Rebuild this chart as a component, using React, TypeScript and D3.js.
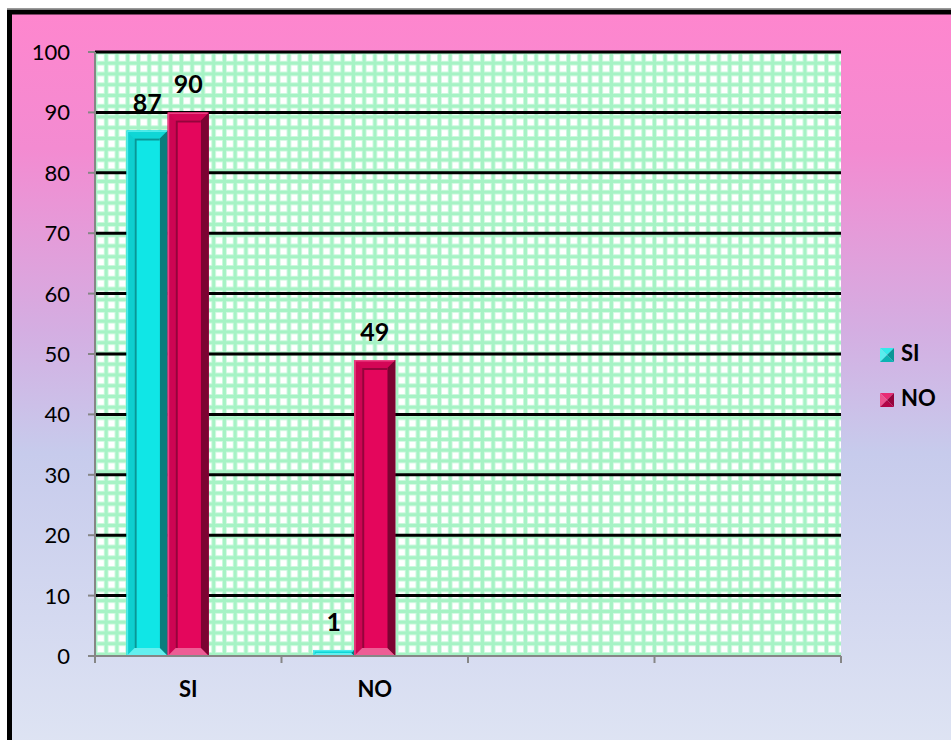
import React from "react";
import * as d3 from "d3";

// Chart data
const categories = ["SI", "NO", "", ""];
const seriesNames = ["SI", "NO"];
const siValues = [87, 1];
const noValues = [90, 49];
const yTickValues = [0, 10, 20, 30, 40, 50, 60, 70, 80, 90, 100];

const seriesColors = ["#10e6e6", "#e4065c"];

const W = 951;
const H = 740;
const plot = { left: 95, right: 841, top: 52, bottom: 656 };
const FONT = "Lato, 'Open Sans', sans-serif";

const mix = (c: string, t: string, k: number) => d3.interpolateRgb(c, t)(k);
const dark = (c: string, k: number) => d3.color(c)!.darker(k).formatHex();

function BevelBar({ x0, y0, w, h, color }: { x0: number; y0: number; w: number; h: number; color: string }) {
  const x1 = x0 + w;
  const y1 = y0 + h;
  const b = Math.min(8, h / 2, w / 2);
  const pts = (p: number[][]) => p.map((q) => q.join(",")).join(" ");
  return (
    <g>
      <rect x={x0} y={y0} width={w} height={h} fill={color} />
      <polygon points={pts([[x0, y0], [x1, y0], [x1 - b, y0 + b], [x0 + b, y0 + b]])} fill={dark(color, 0.2)} />
      <polygon points={pts([[x0, y0], [x0 + b, y0 + b], [x0 + b, y1 - b], [x0, y1]])} fill={dark(color, 0.3)} />
      <polygon points={pts([[x1, y0], [x1, y1], [x1 - b, y1 - b], [x1 - b, y0 + b]])} fill={dark(color, 1.7)} />
      <polygon points={pts([[x0, y1], [x0 + b, y1 - b], [x1 - b, y1 - b], [x1, y1]])} fill={mix(color, "#ffffff", 0.35)} />
      <path
        d={`M${x0 + 0.75},${y1} V${y0 + 0.75} H${x1 - 1}`}
        fill="none"
        stroke={mix(color, "#ffffff", 0.25)}
        strokeWidth={1.5}
      />
      {h > 2 * b + 1 && (
        <g>
          <rect x={x0 + b} y={y0 + b} width={w - 2 * b} height={h - 2 * b} fill={color} />
          <path
            d={`M${x0 + b + 1},${y1 - b} V${y0 + b + 1} H${x1 - b}`}
            fill="none"
            stroke={dark(color, 1.2)}
            strokeWidth={2}
          />
        </g>
      )}
    </g>
  );
}

function LegendMarker({ x, y, s, color }: { x: number; y: number; s: number; color: string }) {
  const cx = x + s / 2;
  const cy = y + s / 2;
  const t = (p: number[][]) => p.map((q) => q.join(",")).join(" ");
  return (
    <g>
      <polygon points={t([[x, y], [x + s, y], [cx, cy]])} fill={mix(color, "#ffffff", 0.15)} />
      <polygon points={t([[x, y], [cx, cy], [x, y + s]])} fill={mix(color, "#ffffff", 0.3)} />
      <polygon points={t([[x + s, y], [x + s, y + s], [cx, cy]])} fill={dark(color, 1.2)} />
      <polygon points={t([[x, y + s], [cx, cy], [x + s, y + s]])} fill={dark(color, 0.7)} />
    </g>
  );
}

export default function App() {
  const x = d3
    .scaleBand<number>()
    .domain(d3.range(categories.length))
    .range([plot.left, plot.right]);
  // three bar slots per category; the third slot is left empty
  const xs = d3
    .scaleBand<string>()
    .domain([...seriesNames, "_empty"])
    .range([0, x.bandwidth()])
    .paddingOuter(0.77);
  const y = d3.scaleLinear().domain([0, 100]).range([plot.bottom, plot.top]);
  const seriesValues = [siValues, noValues];

  const catTicks = d3.range(categories.length + 1).map((i) => plot.left + i * x.step());

  return (
    <div style={{ position: "absolute", left: 0, top: 0 }}>
      <svg width={W} height={H} style={{ display: "block" }}>
        <defs>
          <linearGradient id="bg" x1="0" y1="0" x2="0" y2="1">
            <stop offset="0" stopColor="#fe86ce" />
            <stop offset="0.18" stopColor="#f38bd1" />
            <stop offset="0.42" stopColor="#d4aee2" />
            <stop offset="0.58" stopColor="#c7cbec" />
            <stop offset="1" stopColor="#e0e6f4" />
          </linearGradient>
          <pattern
            id="gridFill"
            patternUnits="userSpaceOnUse"
            x={plot.left}
            y={plot.top}
            width={10.75}
            height={10.75}
          >
            <rect width={10.75} height={10.75} fill="#a6f3c5" />
            <rect x={2.0} y={2.0} width={7.6} height={7.6} fill="#d2fae2" />
            <rect x={2.8} y={2.8} width={6.0} height={6.0} fill="#ffffff" />
          </pattern>
        </defs>

        <rect x={0} y={0} width={W} height={H} fill="#ffffff" />
        <line x1={7} x2={W} y1={8.5} y2={8.5} stroke="#9a9a9a" strokeWidth={1} />
        <rect x={9.5} y={12} width={W + 20} height={H + 20} fill="url(#bg)" stroke="#000" strokeWidth={5} />

        {/* plot area */}
        <rect
          x={plot.left}
          y={plot.top}
          width={plot.right - plot.left}
          height={plot.bottom - plot.top}
          fill="url(#gridFill)"
        />

        {/* major gridlines */}
        {yTickValues
          .filter((v) => v > 0)
          .map((v) => (
            <line key={v} x1={plot.left} x2={plot.right} y1={y(v)} y2={y(v)} stroke="#000" strokeWidth={3} />
          ))}

        {/* axes */}
        <line x1={plot.left} x2={plot.left} y1={plot.top} y2={plot.bottom + 7} stroke="#868686" strokeWidth={2} />
        {yTickValues.map((v) => (
          <g key={v}>
            <line x1={plot.left - 7} x2={plot.left} y1={y(v)} y2={y(v)} stroke="#868686" strokeWidth={2} />
            <text
              x={70}
              y={y(v)}
              dy="0.36em"
              textAnchor="end"
              fontFamily={FONT}
              fontSize={22}
              fill="#000"
            >
              {v}
            </text>
          </g>
        ))}

        {/* bars */}
        {categories.map((c, ci) =>
          seriesNames.map((s, si) => {
            const v = seriesValues[si][ci];
            if (v === undefined) return null;
            const bx = (x(ci) as number) + (xs(s) as number);
            const bw = xs.bandwidth();
            return (
              <g key={`${ci}-${si}`}>
                <BevelBar x0={bx} y0={y(v)} w={bw} h={y(0) - y(v)} color={seriesColors[si]} />
                <text
                  x={bx + bw / 2}
                  y={y(v) - 19}
                  textAnchor="middle"
                  fontFamily={FONT}
                  fontWeight="bold"
                  fontSize={25}
                  fill="#000"
                >
                  {v}
                </text>
              </g>
            );
          })
        )}

        <line x1={plot.left - 7} x2={plot.right} y1={plot.bottom} y2={plot.bottom} stroke="#868686" strokeWidth={2} />
        {catTicks.map((t, i) => (
          <line key={i} x1={t} x2={t} y1={plot.bottom} y2={plot.bottom + 7} stroke="#868686" strokeWidth={2} />
        ))}
        {categories.map((c, ci) => (
          <text
            key={ci}
            x={(x(ci) as number) + x.bandwidth() / 2}
            y={697}
            textAnchor="middle"
            fontFamily={FONT}
            fontWeight="bold"
            fontSize={22}
            fill="#000"
          >
            {c}
          </text>
        ))}

        {/* legend */}
        {seriesNames.map((s, si) => (
          <g key={s} transform={`translate(880, ${348 + si * 45})`}>
            <LegendMarker x={0} y={0} s={14} color={seriesColors[si]} />
            <text x={21} y={13} fontFamily={FONT} fontWeight="bold" fontSize={22} fill="#000">
              {s}
            </text>
          </g>
        ))}
      </svg>
    </div>
  );
}
